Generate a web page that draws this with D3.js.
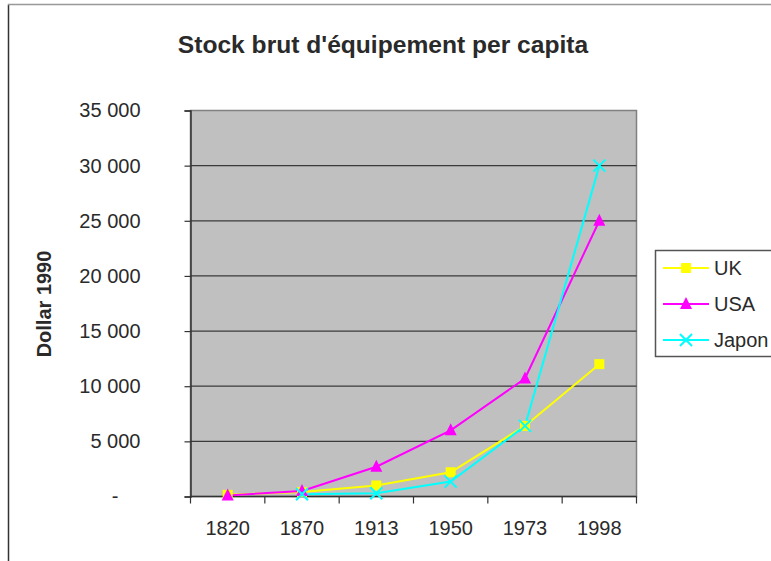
<!DOCTYPE html>
<html>
<head>
<meta charset="utf-8">
<script src="https://cdn.jsdelivr.net/npm/d3@7"></script>
<style>
  body { margin: 0; background: #fff; }
  text { font-family: "Liberation Sans", Arial, sans-serif; fill: #2a2a2a; }
</style>
</head>
<body>
<div id="chart"></div>
<script>
const years = ["1820", "1870", "1913", "1950", "1973", "1998"];
const uk = [150, 400, 1000, 2200, 6400, 12000];
const usa = [100, 500, 2700, 6000, 10700, 25000];
const japon = [null, 200, 300, 1350, 6400, 30000];
const yTicks = [0, 5000, 10000, 15000, 20000, 25000, 30000, 35000];

const series = [
  {name: "UK", values: uk, color: "#ffff00", marker: "square"},
  {name: "USA", values: usa, color: "#ff00ff", marker: "triangle"},
  {name: "Japon", values: japon, color: "#00ffff", marker: "cross"}
];

const width = 771, height = 561;
const plot = {left: 190.5, right: 636.5, top: 110.5, bottom: 496.5};

const svg = d3.select("#chart").append("svg")
    .attr("width", width)
    .attr("height", height);

// chart area frame (only left + top visible, rest is off-page)
svg.append("line").attr("x1", 8.5).attr("x2", 8.5).attr("y1", 4.5).attr("y2", height)
    .attr("stroke", "#333").attr("stroke-width", 1.5);
svg.append("line").attr("x1", 8).attr("x2", width).attr("y1", 4.5).attr("y2", 4.5)
    .attr("stroke", "#999").attr("stroke-width", 1.5);

const x = d3.scaleBand()
    .domain(years)
    .range([plot.left, plot.right])
    .padding(0);

const y = d3.scaleLinear()
    .domain([0, 35000])
    .range([plot.bottom, plot.top]);

// plot area
svg.append("rect")
    .attr("x", plot.left).attr("y", plot.top)
    .attr("width", plot.right - plot.left)
    .attr("height", plot.bottom - plot.top)
    .attr("fill", "#c0c0c0")
    .attr("stroke", "#808080")
    .attr("stroke-width", 1.5);

// gridlines
svg.append("g")
    .selectAll("line")
    .data(yTicks.filter(d => d > 0 && d < 35000))
    .enter().append("line")
        .attr("x1", plot.left).attr("x2", plot.right)
        .attr("y1", d => y(d)).attr("y2", d => y(d))
        .attr("stroke", "#3a3a3a")
        .attr("stroke-width", 1.2);

const fmt = d => d === 0 ? "-" : d3.format(",")(d).replace(/,/g, " ");

const yAxis = svg.append("g")
    .attr("transform", `translate(${plot.left},0)`)
    .call(d3.axisLeft(y).tickValues(yTicks).tickSize(6).tickPadding(44).tickFormat(fmt));
yAxis.select(".domain").attr("stroke", "#333").attr("stroke-width", 1.5);
yAxis.selectAll(".tick line").attr("stroke", "#333").attr("stroke-width", 1.2);
yAxis.selectAll(".tick text")
    .attr("font-size", 20)
    .attr("fill", "#2a2a2a")
    .attr("font-family", "Liberation Sans, Arial, sans-serif")
    .attr("dx", d => d === 0 ? -22 : 0);

// x axis: ticks between categories
const xAxis = svg.append("g")
    .attr("transform", `translate(0,${plot.bottom})`);
xAxis.append("line")
    .attr("x1", plot.left).attr("x2", plot.right)
    .attr("stroke", "#333").attr("stroke-width", 1.5);
xAxis.selectAll("line.tk")
    .data(years.concat(["end"]))
    .enter().append("line")
        .attr("class", "tk")
        .attr("x1", (d, i) => i < years.length ? x(d) : plot.right)
        .attr("x2", (d, i) => i < years.length ? x(d) : plot.right)
        .attr("y1", 0).attr("y2", 7)
        .attr("stroke", "#333").attr("stroke-width", 1.2);
xAxis.selectAll("text")
    .data(years)
    .enter().append("text")
        .attr("x", d => x(d) + x.bandwidth() / 2)
        .attr("y", 38)
        .attr("text-anchor", "middle")
        .attr("font-size", 20)
        .text(d => d);

// markers
function drawMarker(g, type, color) {
  if (type === "square") {
    g.append("rect").attr("x", -5).attr("y", -5).attr("width", 10).attr("height", 10)
        .attr("fill", color);
  } else if (type === "triangle") {
    g.append("path").attr("d", "M0,-7L6,5L-6,5Z").attr("fill", color);
  } else {
    g.append("path").attr("d", "M-6,-6L6,6M-6,6L6,-6")
        .attr("stroke", color).attr("stroke-width", 2).attr("fill", "none");
  }
}

const line = d3.line()
    .defined(d => d.v != null)
    .x(d => x(d.year) + x.bandwidth() / 2)
    .y(d => y(d.v));

series.forEach(s => {
  const pts = years.map((yr, i) => ({year: yr, v: s.values[i]}));
  svg.append("path")
      .datum(pts)
      .attr("fill", "none")
      .attr("stroke", s.color)
      .attr("stroke-width", 2)
      .attr("d", line);
});

series.forEach(s => {
  const pts = years.map((yr, i) => ({year: yr, v: s.values[i]})).filter(d => d.v != null);
  svg.append("g").selectAll("g")
      .data(pts)
      .enter().append("g")
        .attr("transform", d => `translate(${x(d.year) + x.bandwidth() / 2},${y(d.v)})`)
        .each(function() { drawMarker(d3.select(this), s.marker, s.color); });
});

// title
svg.append("text")
    .attr("x", 383)
    .attr("y", 53)
    .attr("text-anchor", "middle")
    .attr("font-size", 24.6)
    .attr("font-weight", "bold")
    .text("Stock brut d'équipement per capita");

// y axis title
svg.append("text")
    .attr("transform", "translate(51,304) rotate(-90)")
    .attr("text-anchor", "middle")
    .attr("font-size", 20)
    .attr("font-weight", "bold")
    .text("Dollar 1990");

// legend
const legend = svg.append("g").attr("transform", "translate(655,250)");
legend.append("rect")
    .attr("x", 0.5).attr("y", 0.5)
    .attr("width", 140).attr("height", 106)
    .attr("fill", "#fff")
    .attr("stroke", "#555")
    .attr("stroke-width", 1.5);

const item = legend.selectAll("g.item")
    .data(series)
    .enter().append("g")
        .attr("class", "item")
        .attr("transform", (d, i) => `translate(0,${18 + i * 36})`);
item.append("line")
    .attr("x1", 8).attr("x2", 54)
    .attr("stroke", d => d.color).attr("stroke-width", 2);
item.append("g")
    .attr("transform", "translate(31,0)")
    .each(function(d) { drawMarker(d3.select(this), d.marker, d.color); });
item.append("text")
    .attr("x", 59)
    .attr("y", 7)
    .attr("font-size", 20)
    .text(d => d.name);
</script>
</body>
</html>
